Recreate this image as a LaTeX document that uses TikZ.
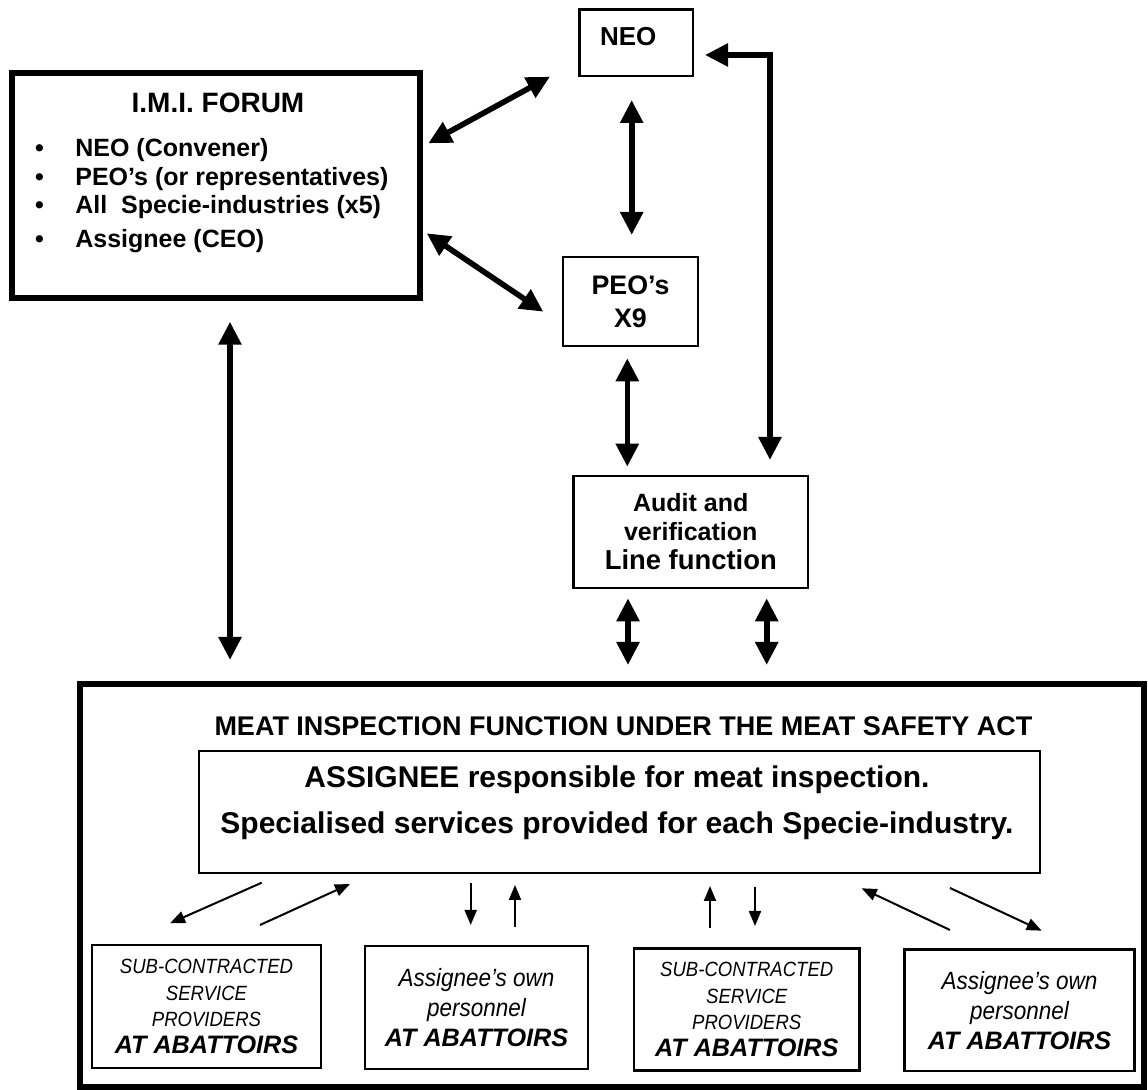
\documentclass[tikz,border=0pt]{standalone}
\usepackage{fontspec}
\setmainfont{Liberation Sans}
\newfontfamily\narrowfont[FakeStretch=0.9]{Liberation Sans}
\usetikzlibrary{arrows.meta}

\tikzset{
  heavybox/.style={draw, line width=2.9pt, inner sep=0pt},
  plainbox/.style={draw, line width=1.1pt, inner sep=0pt, align=center},
  forumitem/.style={anchor=west, inner sep=0pt, font=\fontsize{12.5}{15}\selectfont\bfseries},
  bigarrow/.style={line width=2.8pt, {Triangle[length=11.5pt,width=11pt]}-{Triangle[length=11.5pt,width=11pt]}},
  smallarrow/.style={line width=1pt, -{Triangle[length=7.5pt,width=6pt]}},
  subtext/.style={font=\narrowfont\itshape\fontsize{10.3}{13.3}\selectfont},
  owntext/.style={font=\narrowfont\itshape\fontsize{12.5}{15}\selectfont},
}
\newcommand{\abattoirs}{{\normalfont\bfseries\itshape\fontsize{12.6}{13.3}\selectfont AT ABATTOIRS}}

\begin{document}
\begin{tikzpicture}[x=0.5pt, y=-0.5pt]
\useasboundingbox (0,0) rectangle (1148,1090);

% forum
\node[heavybox, minimum width=204.2pt, minimum height=112.4pt] (forum) at (215.8,185.7) {};
\node[font=\fontsize{14}{16}\selectfont\bfseries] (forumtitle) at (218,103) {I.M.I. FORUM};
\node[forumitem] (fneo) at (34.6,150) {\makebox[20.2pt][l]{\textbullet}NEO (Convener)};
\node[forumitem] (fpeo) at (34.6,179) {\makebox[20.2pt][l]{\textbullet}PEO’s (or representatives)};
\node[forumitem] (find) at (34.6,207) {\makebox[20.2pt][l]{\textbullet}All\ \ Specie-industries (x5)};
\node[forumitem] (fasg) at (34.6,241) {\makebox[20.2pt][l]{\textbullet}Assignee (CEO)};

% upper boxes
\node[plainbox, minimum width=56.75pt, minimum height=33.25pt, text height=9.3pt, text depth=7pt, font=\fontsize{13}{15}\selectfont\bfseries] (neo) at (636.25,42.75) {NEO\hspace*{8pt}};
\node[plainbox, minimum width=67.5pt, minimum height=44.5pt, font=\fontsize{13.4}{16.5}\selectfont\bfseries] (peo) at (630.5,301.5) {PEO’s\\X9};
\node[plainbox, minimum width=117.25pt, minimum height=56pt, font=\fontsize{12.5}{14.5}\selectfont\bfseries] (audit) at (690.75,532) {Audit and\\verification\\{\fontsize{13.7}{14.5}\selectfont Line function}};

% meat inspection function
\node[heavybox, minimum width=532pt, minimum height=201.5pt] (mif) at (612,885.5) {};
\node[font=\fontsize{13.5}{16}\selectfont\bfseries] (miftitle) at (623.5,726) {MEAT INSPECTION FUNCTION UNDER THE MEAT SAFETY ACT};
\node[plainbox, minimum width=420.5pt, minimum height=61pt] (assignee) at (619.5,812) {};
\node[align=center, font=\fontsize{15}{23}\selectfont\bfseries] (asgtext) at (617,803) {ASSIGNEE responsible for meat inspection.\\Specialised services provided for each Specie-industry.};

\node[plainbox, subtext, minimum width=114.5pt, minimum height=61.5pt] (subA) at (206.5,1006.5) {SUB-CONTRACTED\\SERVICE\\PROVIDERS\\\abattoirs};
\node[plainbox, owntext, minimum width=111.5pt, minimum height=61.5pt] (ownA) at (476.5,1007.5) {Assignee’s own\\personnel\\\abattoirs};
\node[plainbox, subtext, minimum width=112.75pt, minimum height=61pt] (subB) at (746.75,1009.5) {SUB-CONTRACTED\\SERVICE\\PROVIDERS\\\abattoirs};
\node[plainbox, owntext, minimum width=115pt, minimum height=60.75pt] (ownB) at (1019.5,1010.25) {Assignee’s own\\personnel\\\abattoirs};

% arrow ends
\coordinate (fneA) at (428.3,143.3);
\coordinate (neoA) at (550,76.7);
\coordinate (fpeA) at (426.7,233.3);
\coordinate (peoA) at (543.3,311.7);
\coordinate (neoB) at (631.7,100);
\coordinate (peoB) at (631.7,235);
\coordinate (peoC) at (627.3,358.3);
\coordinate (audA) at (627.3,466.7);
\coordinate (audB) at (770,460);
\coordinate (neoC) at (705,55);
\coordinate (audC) at (628,598.3);
\coordinate (mifA) at (628,665);
\coordinate (audD) at (766.7,598.3);
\coordinate (mifB) at (766.7,665);
\coordinate (forumB) at (230,321.7);
\coordinate (mifC) at (230,660);

\begin{scope}[bigarrow]
  \draw (fneA) -- (neoA);
  \draw (fpeA) -- (peoA);
  \draw (neoB) -- (peoB);
  \draw (peoC) -- (audA);
  \draw (audB) |- (neoC);
  \draw (audC) -- (mifA);
  \draw (audD) -- (mifB);
  \draw (forumB) -- (mifC);
\end{scope}

% small arrows under the assignee box
\coordinate (asgA) at (261.7,882.7);  \coordinate (subAa) at (170,923.3);
\coordinate (subAb) at (260,925);     \coordinate (asgB) at (350,884);
\coordinate (asgC) at (470.7,883);    \coordinate (ownAa) at (470.7,925);
\coordinate (ownAb) at (515,926.7);   \coordinate (asgD) at (515,885);
\coordinate (subBa) at (710,928);     \coordinate (asgE) at (710,886);
\coordinate (asgF) at (755,886.7);    \coordinate (subBb) at (755,926);
\coordinate (ownBa) at (950,930);     \coordinate (asgG) at (861.7,888.3);
\coordinate (asgH) at (950,888);      \coordinate (ownBb) at (1041.7,930.7);

\begin{scope}[smallarrow]
  \draw (asgA) -- (subAa);
  \draw (subAb) -- (asgB);
  \draw (asgC) -- (ownAa);
  \draw (ownAb) -- (asgD);
  \draw (subBa) -- (asgE);
  \draw (asgF) -- (subBb);
  \draw (ownBa) -- (asgG);
  \draw (asgH) -- (ownBb);
\end{scope}
\end{tikzpicture}
\end{document}
